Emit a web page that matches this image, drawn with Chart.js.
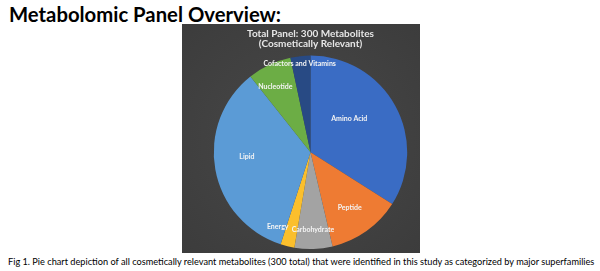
<!DOCTYPE html>
<html>
<head>
<meta charset="utf-8">
<script src="https://cdn.jsdelivr.net/npm/chart.js@4"></script>
<style>
  html, body { margin: 0; padding: 0; background: #fff; }
  body { width: 600px; height: 271px; position: relative; overflow: hidden; font-family: Lato, "Open Sans", sans-serif; }
  #heading { position: absolute; left: 9px; top: 2px; font-size: 20.3px; font-weight: 700; color: #000; white-space: nowrap; }
  #panel { position: absolute; left: 182px; top: 24px; width: 238px; height: 229px;
    background: radial-gradient(ellipse at center, #484848 0%, #3c3c3c 100%); }
  #caption { position: absolute; left: 8px; top: 256px; font-size: 9.2px; color: #000; white-space: nowrap; }
</style>
</head>
<body>
<div id="heading">Metabolomic Panel Overview:</div>
<div id="panel"><canvas id="pieChart" width="238" height="229"></canvas></div>
<div id="caption">Fig 1. Pie chart depiction of all cosmetically relevant metabolites (300 total) that were identified in this study as categorized by major superfamilies</div>
<script>
const categories = ['Amino Acid', 'Peptide', 'Carbohydrate', 'Energy', 'Lipid', 'Nucleotide', 'Cofactors and Vitamins'];
const counts = [102, 37, 19, 7, 103, 22, 10];
const titleLines = ['Total Panel: 300 Metabolites', '(Cosmetically Relevant)'];

const colors = ['#3a6cc4', '#ee7b33', '#a3a3a3', '#fbbf2c', '#5b9bd6', '#6cad45', '#284a84'];

// where each label sits: [angle shift in degrees, fraction of radius]
const labelSpots = [[-12, 0.53], [0, 0.70], [0, 0.80], [10, 0.84], [6, 0.66], [-3, 0.77], [-1, 0.92]];

const sliceLabels = {
    id: 'sliceLabels',
    afterDatasetsDraw(chart) {
        const c = chart.ctx;
        const arcs = chart.getDatasetMeta(0).data;
        c.save();
        c.font = '700 7px Lato, "Open Sans", sans-serif';
        c.fillStyle = '#f4f4f4';
        c.textAlign = 'center';
        c.textBaseline = 'middle';
        arcs.forEach((arc, i) => {
            const { x, y, startAngle, endAngle, outerRadius } = arc.getProps(['x', 'y', 'startAngle', 'endAngle', 'outerRadius'], true);
            const [shift, frac] = labelSpots[i];
            const a = (startAngle + endAngle) / 2 + shift * Math.PI / 180;
            c.fillText(categories[i], x + Math.cos(a) * outerRadius * frac, y + Math.sin(a) * outerRadius * frac);
        });
        c.restore();
    }
};

new Chart(document.getElementById('pieChart').getContext('2d'), {
    type: 'pie',
    data: {
        labels: categories,
        datasets: [{
            data: counts,
            backgroundColor: colors,
            borderWidth: 0
        }]
    },
    options: {
        responsive: false,
        animation: false,
        layout: { padding: { left: 19, right: 0, top: 0, bottom: 4 } },
        plugins: {
            legend: { display: false },
            tooltip: { enabled: false },
            title: {
                display: true,
                text: titleLines,
                color: '#e6e6e6',
                font: { family: 'Lato, "Open Sans", sans-serif', size: 10, weight: '700', lineHeight: 1.08 },
                padding: { top: 4, bottom: 6 }
            }
        }
    },
    plugins: [sliceLabels]
});
</script>
</body>
</html>
